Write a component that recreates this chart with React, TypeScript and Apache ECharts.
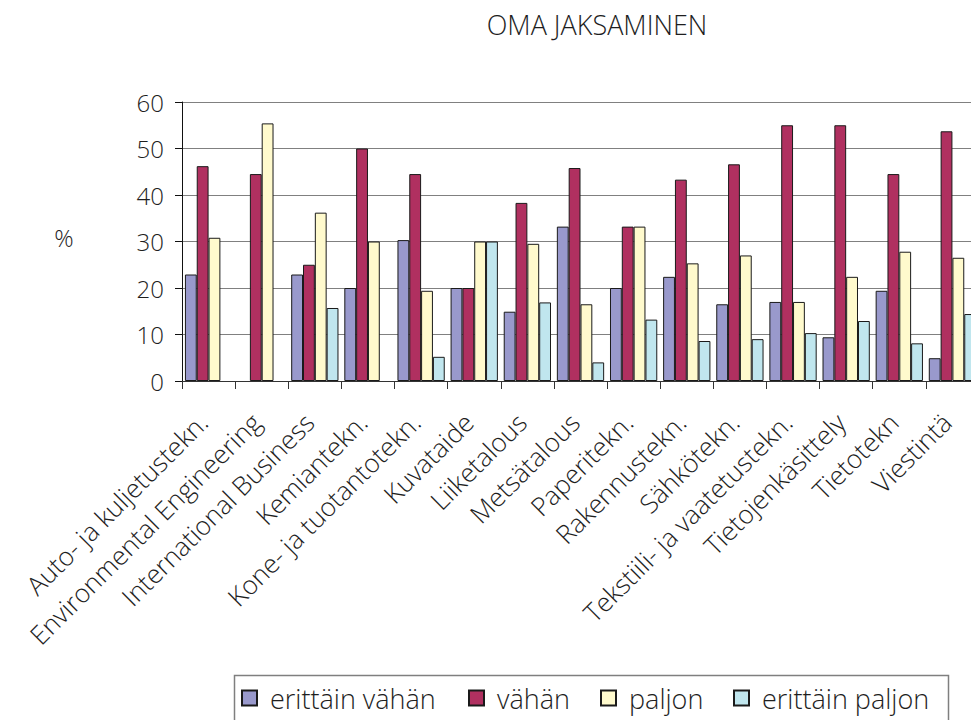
import React, { useEffect, useRef } from "react";
import * as echarts from "echarts";

const categories = [
  "Auto- ja kuljetustekn.",
  "Environmental Engineering",
  "International Business",
  "Kemiantekn.",
  "Kone- ja tuotantotekn.",
  "Kuvataide",
  "Liiketalous",
  "Metsätalous",
  "Paperitekn.",
  "Rakennustekn.",
  "Sähkötekn.",
  "Tekstiili- ja vaatetustekn.",
  "Tietojenkäsittely",
  "Tietotekn",
  "Viestintä",
];

const seriesNames = ["erittäin vähän", "vähän", "paljon", "erittäin paljon"];

const erittainVahan = [22.9, null, 22.9, 20, 30.3, 20, 14.9, 33.2, 20, 22.4, 16.5, 17, 9.4, 19.4, 4.9];
const vahan = [46.2, 44.5, 25, 50, 44.5, 20, 38.3, 45.8, 33.2, 43.3, 46.6, 55, 55, 44.5, 53.7];
const paljon = [30.8, 55.4, 36.2, 30, 19.4, 30, 29.5, 16.5, 33.2, 25.3, 27, 17, 22.4, 27.8, 26.5];
const erittainPaljon = [null, null, 15.7, null, 5.2, 30, 16.9, 4, 13.2, 8.6, 9, 10.3, 12.9, 8.1, 14.4];

const yTicks = [0, 10, 20, 30, 40, 50, 60];

const colors = ["#9999cc", "#b03060", "#fffacd", "#c0e6ee"];
const legendLefts = [241, 468, 600, 733];
const FONT = "'Open Sans', 'Noto Sans', sans-serif";
const TEXT = "#1e1e1e";

export default function App() {
  const ref = useRef<HTMLDivElement>(null);
  useEffect(() => {
    if (!ref.current) return;
    const chart = echarts.init(ref.current, null, { renderer: "svg" });
    const data = [erittainVahan, vahan, paljon, erittainPaljon];
    chart.setOption({
      animation: false,
      backgroundColor: "#ffffff",
      textStyle: { fontFamily: FONT, fontWeight: 300 },
      graphic: [
        {
          type: "text",
          x: 597,
          y: 24,
          style: {
            text: "OMA JAKSAMINEN",
            fontSize: 27,
            fontWeight: 300,
            fontFamily: FONT,
            fill: TEXT,
            textAlign: "center",
            textVerticalAlign: "middle",
          },
        },
        {
          type: "text",
          x: 64,
          y: 237,
          style: {
            text: "%",
            fontSize: 24,
            fontWeight: 300,
            fontFamily: FONT,
            fill: TEXT,
            textAlign: "center",
            textVerticalAlign: "middle",
          },
        },
        {
          type: "rect",
          shape: { x: 234.5, y: 675.5, width: 714, height: 70 },
          style: { fill: "none", stroke: "#7f7f7f", lineWidth: 1.5 },
          silent: true,
        },
      ],
      grid: { left: 182, right: 21, top: 102, bottom: 339, containLabel: false },
      legend: seriesNames.map((name, i) => ({
        data: [name],
        left: legendLefts[i],
        top: 683,
        orient: "horizontal",
        icon: "rect",
        itemWidth: 15,
        itemHeight: 15,
        padding: 0,
        textStyle: {
          fontSize: 27,
          fontWeight: 300,
          fontFamily: FONT,
          color: TEXT,
          lineHeight: 30,
          padding: [0, 0, 0, 8],
        },
      })),
      xAxis: {
        type: "category",
        data: categories,
        boundaryGap: true,
        axisLine: { lineStyle: { color: "#333333", width: 1 } },
        axisTick: { show: true, interval: 0, length: 8, lineStyle: { color: "#333333" } },
        axisLabel: {
          interval: 0,
          rotate: 45,
          margin: 31,
          padding: [0, 8, 0, 0],
          fontSize: 26,
          fontWeight: 300,
          fontFamily: FONT,
          color: TEXT,
        },
        splitLine: { show: false },
      },
      yAxis: {
        type: "value",
        min: yTicks[0],
        max: yTicks[yTicks.length - 1],
        interval: 10,
        axisLine: { show: true, lineStyle: { color: "#111111", width: 1 } },
        axisTick: { show: true, length: 7, lineStyle: { color: "#111111" } },
        axisLabel: { margin: 18, fontSize: 24, fontWeight: 300, fontFamily: FONT, color: TEXT },
        splitLine: { show: true, lineStyle: { color: "#808080", width: 1.2 } },
      },
      series: seriesNames.map((name, i) => ({
        name,
        type: "bar",
        data: data[i],
        barGap: "0%",
        barCategoryGap: "11%",
        itemStyle: { color: colors[i], borderColor: "#1a1a1a", borderWidth: 1 },
      })),
    });
    return () => chart.dispose();
  }, []);
  return (
    <div
      style={{
        position: "fixed",
        left: 0,
        top: 0,
        width: 971,
        height: 720,
        overflow: "hidden",
        background: "#fff",
      }}
    >
      <div ref={ref} style={{ width: 1000, height: 720 }} />
    </div>
  );
}
